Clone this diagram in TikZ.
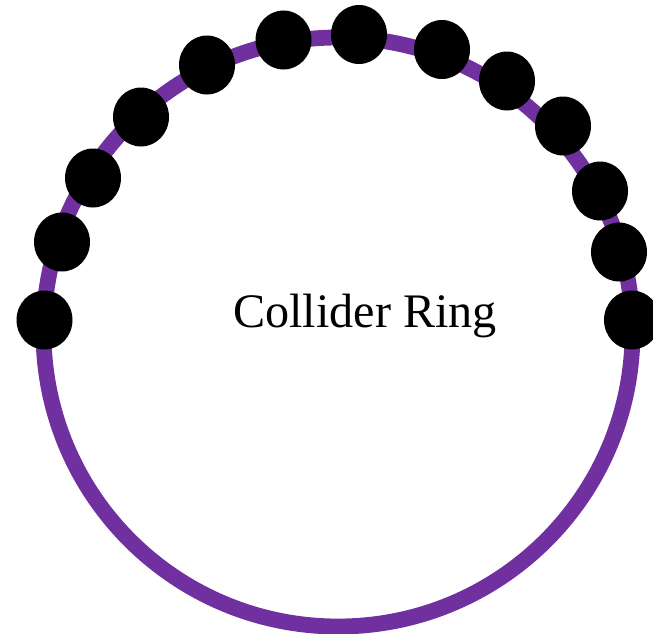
\documentclass[tikz,border=0pt]{standalone}
\usepackage{fontspec}
\setmainfont{Liberation Serif}
\usepackage{xcolor}
\usepackage{tikz}
\usetikzlibrary{shapes.geometric}
\definecolor{ringCol}{HTML}{7030A0}
\tikzset{
  ringline/.style={draw=ringCol, line width=9pt},
  bead/.style={ellipse, fill=black, inner sep=0pt, minimum width=1.12cm, minimum height=1.18cm},
  ringlabel/.style={font=\fontsize{27.4}{33}\selectfont, inner sep=0pt, anchor=base},
}
\begin{document}
\begin{tikzpicture}
  \useasboundingbox (0,0) rectangle (13.06,12.66);
  % ring
  \coordinate (c) at (6.76,6.02);
  \draw[ringline] (c) circle (5.89);
  \node[ringlabel] (lbl) at (7.30,6.12) {Collider Ring};
  % beads along the top half
  \node[bead] (b1)  at (0.89, 6.26) {};
  \node[bead] (b2)  at (1.24, 7.82) {};
  \node[bead] (b3)  at (1.86, 9.10) {};
  \node[bead] (b4)  at (2.82,10.32) {};
  \node[bead] (b5)  at (4.14,11.36) {};
  \node[bead] (b6)  at (5.67,11.86) {};
  \node[bead] (b7)  at (7.18,11.97) {};
  \node[bead] (b8)  at (8.84,11.67) {};
  \node[bead] (b9)  at (10.14,11.04) {};
  \node[bead] (b10) at (11.26,10.14) {};
  \node[bead] (b11) at (12.00, 8.84) {};
  \node[bead] (b12) at (12.38, 7.62) {};
  \node[bead] (b13) at (12.64, 6.26) {};
\end{tikzpicture}
\end{document}
